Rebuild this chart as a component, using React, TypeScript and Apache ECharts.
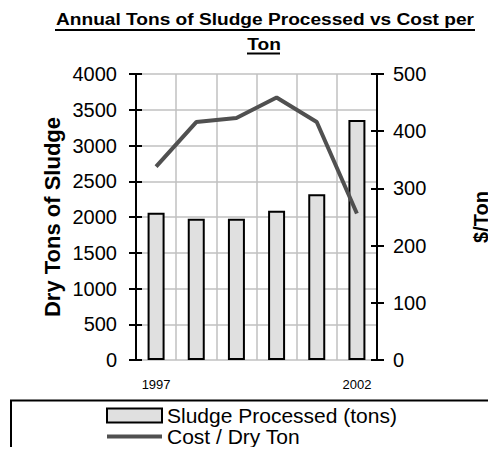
import React, { useEffect, useRef } from "react";
import * as echarts from "echarts";

const years = ["1997", "1998", "1999", "2000", "2001", "2002"];
const sludgeTons = [2060, 1977, 1977, 2088, 2317, 3357];
const costPerTon = [338, 416, 423, 459, 416, 256];
const titleLine1 = "Annual Tons of Sludge Processed vs Cost per";
const titleLine2 = "Ton";
const leftAxisName = "Dry Tons of Sludge";
const rightAxisName = "$/Ton";
const barName = "Sludge Processed (tons)";
const lineName = "Cost / Dry Ton";

const FONT = "'Liberation Sans', Arial, Helvetica, sans-serif";

export default function App() {
  const ref = useRef<HTMLDivElement>(null);
  useEffect(() => {
    if (!ref.current) return;
    const chart = echarts.init(ref.current, undefined, { renderer: "svg" });
    const tickLabel = {
      fontSize: 20,
      color: "#000",
      fontFamily: FONT,
      formatter: (v: number) => String(v),
    };
    const option: any = {
      animation: false,
      backgroundColor: "#fff",
      grid: { left: 136, right: 119, top: 74, bottom: 95, containLabel: false },
      graphic: [
        {
          type: "text",
          x: 265,
          y: 19.8,
          scaleX: 1.125,
          style: {
            text: titleLine1,
            fontSize: 17,
            fontWeight: "bold",
            fontFamily: FONT,
            fill: "#000",
            align: "center",
            verticalAlign: "middle",
          },
        },
        {
          type: "text",
          x: 264,
          y: 44,
          scaleX: 1.125,
          style: {
            text: titleLine2,
            fontSize: 17,
            fontWeight: "bold",
            fontFamily: FONT,
            fill: "#000",
            align: "center",
            verticalAlign: "middle",
          },
        },
        {
          type: "line",
          shape: { x1: 55, y1: 30, x2: 475, y2: 30 },
          style: { stroke: "#000", lineWidth: 2 },
        },
        {
          type: "line",
          shape: { x1: 247, y1: 53.5, x2: 280, y2: 53.5 },
          style: { stroke: "#000", lineWidth: 2 },
        },
        {
          type: "rect",
          shape: { x: 11, y: 400.5, width: 484, height: 80 },
          style: { fill: "none", stroke: "#000", lineWidth: 2 },
        },
      ],
      legend: {
        orient: "vertical",
        left: 106,
        top: 405,
        padding: 0,
        itemGap: 0,
        itemWidth: 55,
        itemHeight: 14,
        textStyle: { fontSize: 21, lineHeight: 21, color: "#000", fontFamily: FONT },
        data: [
          { name: barName, icon: "rect" },
          {
            name: lineName,
            icon: "path://M0,0H55V4H0Z",
            itemStyle: { color: "#505050", borderWidth: 0 },
          },
        ],
      },
      xAxis: {
        type: "category",
        data: years,
        axisLine: { show: false },
        axisTick: { show: false, interval: 0 },
        splitLine: { show: true, interval: 0, lineStyle: { color: "#c0c0c0", width: 1.5 } },
        axisLabel: {
          interval: (i: number) => i === 0 || i === years.length - 1,
          fontSize: 13,
          color: "#000",
          fontFamily: FONT,
          margin: 18,
        },
      },
      yAxis: [
        {
          type: "value",
          position: "left",
          min: 0,
          max: 4000,
          interval: 500,
          name: leftAxisName,
          nameLocation: "middle",
          nameRotate: 90,
          nameGap: 73,
          nameTextStyle: { fontSize: 22, fontWeight: "bold", color: "#000", fontFamily: FONT },
          axisLine: { show: true, lineStyle: { color: "#000", width: 2 } },
          axisTick: { show: true, inside: false, length: 7, lineStyle: { color: "#000", width: 2 } },
          axisLabel: { ...tickLabel, margin: 19 },
          splitLine: { show: true, lineStyle: { color: "#c0c0c0", width: 1.5 } },
        },
        {
          type: "value",
          position: "right",
          min: 0,
          max: 500,
          interval: 100,
          name: rightAxisName,
          nameLocation: "middle",
          nameRotate: 90,
          nameGap: 94,
          nameTextStyle: { fontSize: 20, fontWeight: "bold", color: "#000", fontFamily: FONT },
          axisLine: { show: true, lineStyle: { color: "#000", width: 2 } },
          axisTick: { show: true, inside: false, length: 7, lineStyle: { color: "#000", width: 2 } },
          axisLabel: { ...tickLabel, margin: 16 },
          splitLine: { show: false },
        },
        {
          type: "value",
          position: "left",
          min: 0,
          max: 4000,
          interval: 500,
          axisLine: { show: false },
          axisTick: { show: true, inside: true, length: 6, lineStyle: { color: "#000", width: 2 } },
          axisLabel: { show: false },
          splitLine: { show: false },
        },
        {
          type: "value",
          position: "right",
          min: 0,
          max: 500,
          interval: 100,
          axisLine: { show: false },
          axisTick: { show: true, inside: true, length: 6, lineStyle: { color: "#000", width: 2 } },
          axisLabel: { show: false },
          splitLine: { show: false },
        },
      ],
      series: [
        {
          name: barName,
          type: "bar",
          yAxisIndex: 0,
          data: sludgeTons,
          barWidth: 17,
          itemStyle: { color: "#e0e0e0", borderColor: "#000", borderWidth: 2 },
        },
        {
          name: lineName,
          type: "line",
          yAxisIndex: 1,
          data: costPerTon,
          symbol: "none",
          lineStyle: { color: "#505050", width: 4 },
          itemStyle: { color: "#505050" },
        },
      ],
    };
    chart.setOption(option);
    return () => chart.dispose();
  }, []);
  return <div ref={ref} style={{ width: 496, height: 455, margin: -8 }} />;
}
